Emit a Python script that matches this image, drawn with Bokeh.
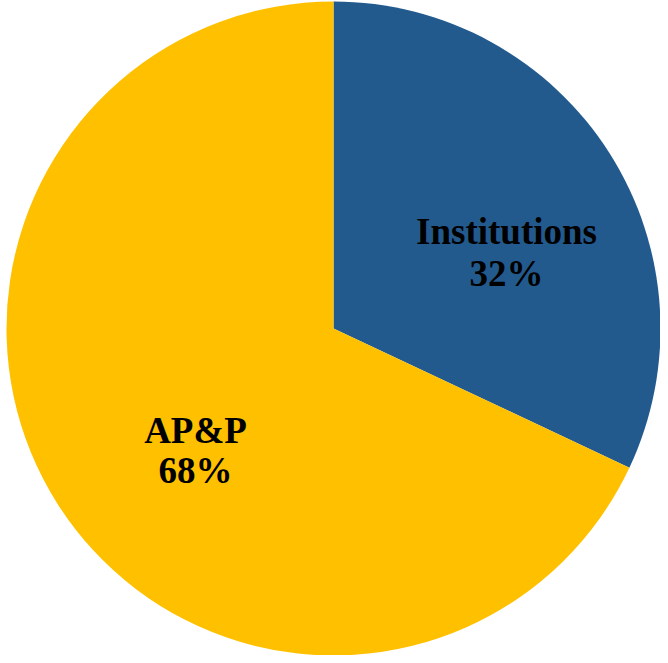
import math
from bokeh.plotting import figure
from bokeh.models import ColumnDataSource
from bokeh.core.properties import value
from bokeh.embed import file_html
from bokeh.resources import INLINE

categories = ["Institutions", "AP&P"]
shares = [32, 68]
colors = ["#235A8E", "#FFC000"]

W, H = 660, 655
R_PX = 327.0
CX, CY = 333.0, 328.0  # center in figure pixels (from top-left)

p = figure(width=W, height=H, output_backend="svg", toolbar_location=None,
           x_range=(-CX / R_PX, (W - CX) / R_PX),
           y_range=(-(H - CY) / R_PX, CY / R_PX),
           min_border=0)
p.axis.visible = False
p.grid.visible = False
p.outline_line_color = None
p.background_fill_color = "white"
p.border_fill_color = "white"

total = float(sum(shares))
starts, ends = [], []
a = math.pi / 2
for s in shares:
    starts.append(a)
    a = a - 2 * math.pi * s / total
    ends.append(a)

src = ColumnDataSource(dict(cat=categories, share=shares, color=colors,
                            start=starts, end=ends))
p.wedge(x=0, y=0, radius=1.0, start_angle="start", end_angle="end",
        direction="clock", fill_color="color", line_color=None, source=src)

# label placement (layout, pixel offsets from the pie centre)
label_dx = [173.0, -138.0]
label_dy = [76.0, -122.0]
line_off = [21.0, 20.0]
lx, ly, texts = [], [], []
for c, s, dx, dy, off in zip(categories, shares, label_dx, label_dy, line_off):
    x = dx / R_PX
    y = dy / R_PX
    lx += [x, x]
    ly += [y + off / R_PX, y - off / R_PX]
    texts += [c, f"{s}%"]

lsrc = ColumnDataSource(dict(x=lx, y=ly, text=texts))
p.text(x="x", y="y", text="text", source=lsrc, text_align="center",
       text_baseline="middle", text_font=value("Liberation Serif"),
       text_font_style="bold", text_font_size="37px", text_color="black")

open("out.html", "w").write(file_html(p, INLINE))
